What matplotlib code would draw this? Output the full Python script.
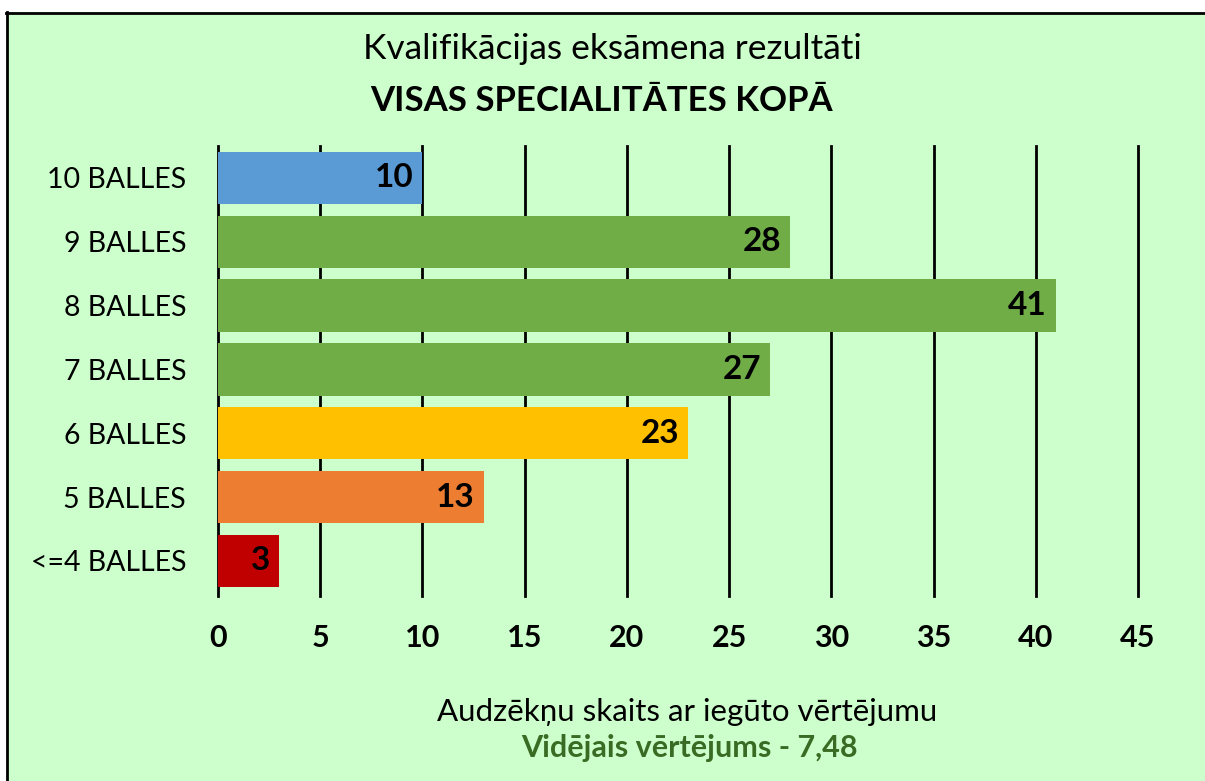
import matplotlib
matplotlib.use("Agg")
import matplotlib.pyplot as plt
from matplotlib.patches import Rectangle

categories = ["10 BALLES", "9 BALLES", "8 BALLES", "7 BALLES", "6 BALLES", "5 BALLES", "<=4 BALLES"]
values = [10, 28, 41, 27, 23, 13, 3]
colors = ["#5B9BD5", "#70AD47", "#70AD47", "#70AD47", "#FFC000", "#ED7D31", "#C00000"]
xticks = [0, 5, 10, 15, 20, 25, 30, 35, 40, 45]

title1 = "Kvalifikācijas eksāmena rezultāti"
title2 = "VISAS SPECIALITĀTES KOPĀ"
xlabel1 = "Audzēkņu skaits ar iegūto vērtējumu"
xlabel2 = "Vidējais vērtējums - 7,48"

plt.rcParams['font.family'] = ['Lato', 'DejaVu Sans']

W, H = 1205, 781
fig = plt.figure(figsize=(W / 100, H / 100), dpi=100)
fig.patch.set_facecolor("white")

# green panel with black left/top border
bg = Rectangle((6 / W, 0), 1 - 6 / W, 1 - 12 / H, transform=fig.transFigure,
               facecolor="#CCFFCC", edgecolor="none", zorder=-10)
fig.patches.append(bg)
fig.add_artist(plt.Line2D([6.5 / W, 6.5 / W], [0, 1 - 12 / H], color="black", lw=2,
                          transform=fig.transFigure))
fig.add_artist(plt.Line2D([6 / W, 1], [1 - 12.5 / H, 1 - 12.5 / H], color="black", lw=2,
                          transform=fig.transFigure))

left, right = 218 / W, 1138 / W
top, bottom = 1 - 146 / H, 1 - 596 / H
ax = fig.add_axes([left, bottom, right - left, top - bottom])
ax.set_facecolor("none")

ypos = list(range(len(categories)))
ax.barh(ypos, values, height=0.82, color=colors, zorder=3)
for y, v in zip(ypos, values):
    ax.text(v - 0.45, y, str(v), ha="right", va="center", fontsize=24,
            fontweight="bold", color="black", zorder=4)

ax.set_xlim(0, 45)
ax.set_ylim(len(categories) - 0.5 + 0.05, -0.5)
ax.set_xticks(xticks)
ax.set_xticklabels([str(t) for t in xticks], fontsize=22, fontweight="bold")
ax.set_yticks(ypos)
ax.set_yticklabels(categories, fontsize=20.5)
ax.tick_params(axis="both", length=0, colors="black")
ax.tick_params(axis="x", pad=20)
ax.tick_params(axis="y", pad=23)
for s in ax.spines.values():
    s.set_visible(False)
for t in xticks:
    ax.axvline(t, color="black", lw=2, zorder=2, clip_on=False)

fig.text(612 / W, 1 - 49 / H, title1, ha="center", va="center", fontsize=25.5)
fig.text(602 / W, 1 - 101 / H, title2, ha="center", va="center", fontsize=25, fontweight="bold")
fig.text(687 / W, 1 - 712 / H, xlabel1, ha="center", va="center", fontsize=22.5)
fig.text(689 / W, 1 - 748 / H, xlabel2, ha="center", va="center", fontsize=22,
         fontweight="bold", color="#3A6B24")

fig.savefig("out.png", dpi=100)
